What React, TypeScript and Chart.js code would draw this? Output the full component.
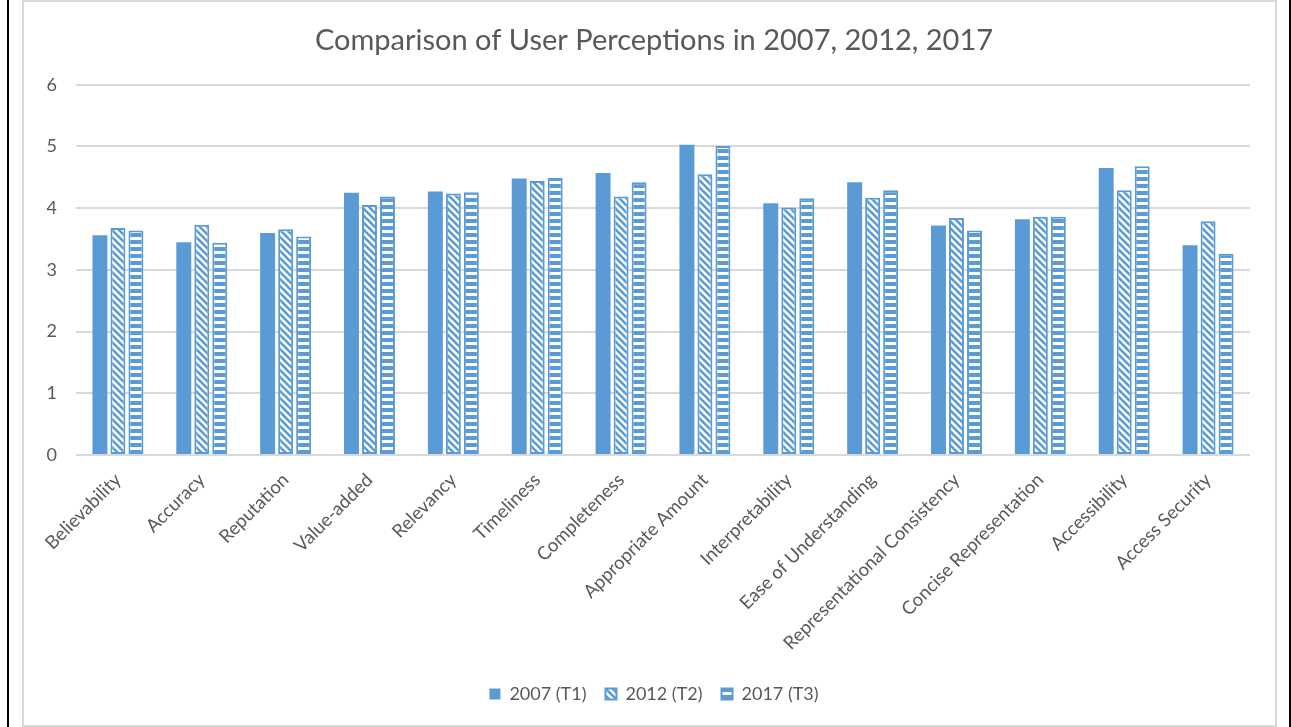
import { useEffect, useRef } from "react";
import { Chart, registerables } from "chart.js";

Chart.register(...registerables);

const categories = [
  "Believability",
  "Accuracy",
  "Reputation",
  "Value-added",
  "Relevancy",
  "Timeliness",
  "Completeness",
  "Appropriate Amount",
  "Interpretability",
  "Ease of Understanding",
  "Representational Consistency",
  "Concise Representation",
  "Accessibility",
  "Access Security",
];
const series2007 = [3.56, 3.45, 3.6, 4.25, 4.27, 4.48, 4.57, 5.03, 4.08, 4.42, 3.72, 3.82, 4.65, 3.4];
const series2012 = [3.68, 3.73, 3.66, 4.05, 4.24, 4.44, 4.19, 4.55, 4.01, 4.17, 3.84, 3.86, 4.29, 3.79];
const series2017 = [3.64, 3.44, 3.54, 4.19, 4.26, 4.49, 4.42, 5.01, 4.16, 4.29, 3.64, 3.86, 4.68, 3.26];
const seriesLabels = ["2007 (T1)", "2012 (T2)", "2017 (T3)"];
const yTicks = [0, 1, 2, 3, 4, 5, 6];
const titleText = "Comparison of User Perceptions in 2007, 2012, 2017";

const BLUE = "#5B9BD5";
const TEXT = "#595959";
const FONT = "Lato, 'Liberation Sans', sans-serif";

function diagonalPattern(ctx: CanvasRenderingContext2D) {
  const p = 7;
  const c = document.createElement("canvas");
  c.width = p;
  c.height = p;
  const g = c.getContext("2d")!;
  g.fillStyle = "#ffffff";
  g.fillRect(0, 0, p, p);
  g.strokeStyle = BLUE;
  g.lineWidth = 2.6;
  for (let k = -1; k <= 1; k++) {
    g.beginPath();
    g.moveTo(k * p - 1, -1);
    g.lineTo(k * p + p + 1, p + 1);
    g.stroke();
  }
  return ctx.createPattern(c, "repeat")!;
}

function horizontalPattern(ctx: CanvasRenderingContext2D) {
  const p = 7;
  const c = document.createElement("canvas");
  c.width = 4;
  c.height = p;
  const g = c.getContext("2d")!;
  g.fillStyle = "#ffffff";
  g.fillRect(0, 0, 4, p);
  g.fillStyle = BLUE;
  g.fillRect(0, 0, 4, 4);
  return ctx.createPattern(c, "repeat")!;
}

export default function App() {
  const ref = useRef<HTMLCanvasElement | null>(null);

  useEffect(() => {
    const canvas = ref.current!;
    const ctx = canvas.getContext("2d")!;
    const pat2012 = diagonalPattern(ctx);
    const pat2017 = horizontalPattern(ctx);

    const chart = new Chart(canvas, {
      type: "bar",
      data: {
        labels: categories,
        datasets: [
          {
            label: seriesLabels[0],
            data: series2007,
            backgroundColor: BLUE,
            borderColor: BLUE,
            borderWidth: 0,
          },
          {
            label: seriesLabels[1],
            data: series2012,
            backgroundColor: pat2012,
            borderColor: BLUE,
            borderWidth: 2,
            borderSkipped: false,
          },
          {
            label: seriesLabels[2],
            data: series2017,
            backgroundColor: pat2017,
            borderColor: BLUE,
            borderWidth: 2,
            borderSkipped: false,
          },
        ],
      },
      options: {
        responsive: false,
        animation: false,
        categoryPercentage: 0.644,
        barPercentage: 0.83,
        layout: { padding: { left: 9, right: 0, top: 0, bottom: 12 } },
        plugins: {
          title: {
            display: true,
            text: titleText,
            color: TEXT,
            font: { family: FONT, size: 29, weight: "normal" },
            padding: { top: 21, bottom: 27 },
          },
          legend: {
            position: "bottom",
            labels: {
              color: TEXT,
              font: { family: FONT, size: 18 },
              boxWidth: 11,
              boxHeight: 11,
              padding: 19,
            },
          },
          tooltip: { enabled: false },
        },
        scales: {
          x: {
            grid: { display: false },
            border: { display: false },
            ticks: {
              color: TEXT,
              font: { family: FONT, size: 18.5 },
              minRotation: 45,
              maxRotation: 45,
              autoSkip: false,
              padding: 6,
            },
            afterFit: (scale: any) => {
              scale.height = 211;
            },
          },
          y: {
            min: 0,
            max: 6,
            afterBuildTicks: (scale: any) => {
              scale.ticks = yTicks.map((v) => ({ value: v }));
            },
            grid: { color: "#d9d9d9", lineWidth: 2, drawTicks: false },
            border: { display: false },
            ticks: {
              color: TEXT,
              font: { family: FONT, size: 18 },
              padding: 19,
            },
            afterFit: (scale: any) => {
              scale.width = 43;
            },
          },
          yRight: {
            position: "right",
            display: true,
            min: 0,
            max: 6,
            grid: { display: false, drawTicks: false },
            border: { display: false },
            ticks: { display: false },
            afterFit: (scale: any) => {
              scale.width = 25;
            },
          },
        },
      },
    });
    return () => chart.destroy();
  }, []);

  return (
    <div>
      <div style={{ position: "fixed", left: 7, top: 0, width: 2, height: 727, background: "#000" }} />
      <div style={{ position: "fixed", left: 1289, top: 0, width: 2, height: 727, background: "#000" }} />
      <div
        style={{
          position: "fixed",
          left: 22,
          top: 0,
          width: 1251,
          height: 723,
          border: "2px solid #d9d9d9",
          background: "#fff",
        }}
      >
        <canvas ref={ref} width={1251} height={723} style={{ display: "block", width: 1251, height: 723 }} />
      </div>
    </div>
  );
}
